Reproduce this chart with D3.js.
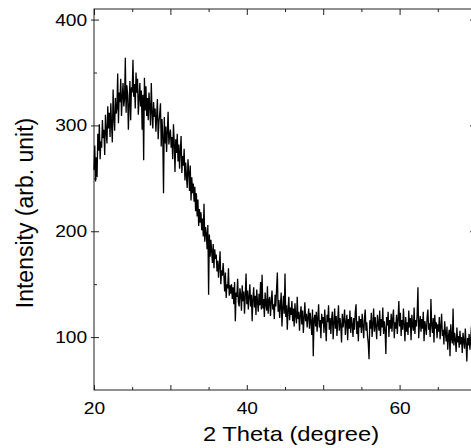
<!DOCTYPE html>
<html>
<head>
<meta charset="utf-8">
<script src="https://cdn.jsdelivr.net/npm/d3@7"></script>
<style>
  body { margin: 0; background: #fff; }
  text { font-family: "Liberation Sans", Arial, sans-serif; fill: #000; }
</style>
</head>
<body>
<div id="chart"></div>
<script>
// XRD scan, 0.1 degree steps starting at 20 degrees
const angleStart = 20;
const angleStep = 0.1;
const intensity = [
  258, 281, 247, 270, 251, 292, 276, 301, 268, 285,
  279, 305, 288, 296, 272, 310, 294, 283, 318, 297,
  312, 289, 321, 300, 284, 334, 307, 295, 326, 311,
  316, 349, 302, 331, 322, 344, 309, 327, 340, 318,
  325, 364, 312, 338, 329, 296, 320, 342, 305, 336,
  331, 362, 327, 339, 316, 350, 331, 344, 310, 325,
  340, 318, 333, 296, 329, 267, 345, 314, 337, 309,
  326, 305, 331, 318, 300, 340, 312, 297, 322, 308,
  316, 294, 309, 325, 287, 303, 311, 321, 280, 306,
  290, 236, 308, 283, 299, 275, 294, 313, 282, 291,
  296, 279, 289, 268, 301, 284, 256, 287, 274, 292,
  266, 282, 259, 276, 290, 255, 271, 262, 278, 248,
  265, 252, 241, 268, 256, 238, 262, 229, 251, 236,
  245, 228, 242, 219, 236, 214, 230, 205, 221, 208,
  218, 201, 212, 195, 226, 190, 204, 198, 183, 206,
  140, 197, 176, 192, 181, 170, 188, 165, 183, 174,
  178, 162, 172, 156, 168, 181, 150, 163, 158, 170,
  158, 143, 161, 137, 150, 146, 165, 139, 149, 141,
  150, 136, 147, 131, 152, 115, 142, 138, 155, 133,
  129, 146, 140, 125, 149, 134, 143, 122, 139, 160,
  131, 144, 126, 138, 150, 129, 140, 115, 136, 147,
  128, 139, 121, 145, 133, 124, 141, 130, 152, 126,
  159, 127, 136, 119, 142, 131, 125, 148, 122, 135,
  138, 120, 133, 144, 126, 131, 117, 140, 129, 146,
  161, 124, 135, 118, 130, 142, 110, 127, 139, 122,
  160, 119, 130, 107, 126, 138, 116, 128, 121, 134,
  115, 127, 110, 132, 120, 113, 138, 117, 124, 106,
  121, 129, 112, 125, 104, 118, 133, 115, 122, 109,
  119, 127, 108, 123, 114, 102, 126, 82, 117, 121,
  110, 124, 105, 118, 131, 109, 116, 99, 122, 113,
  119, 104, 126, 111, 96, 121, 114, 130, 107, 118,
  103, 117, 124, 98, 113, 127, 108, 120, 101, 115,
  130, 106, 118, 111, 95, 122, 109, 116, 126, 102,
  113, 121, 97, 117, 108, 125, 104, 119, 112, 100,
  118, 107, 124, 131, 103, 115, 96, 120, 109, 117,
  104, 122, 111, 99, 118, 126, 106, 114, 101, 94,
  79, 116, 108, 123, 100, 112, 127, 105, 119, 110,
  98, 121, 113, 106, 125, 101, 117, 109, 128, 103,
  115, 107, 84, 119, 111, 124, 100, 116, 108, 122,
  105, 118, 126, 99, 114, 108, 121, 103, 117, 134,
  110, 123, 101, 116, 107, 127, 112, 96, 119, 105,
  114, 102, 125, 109, 118, 97, 121, 111, 106, 128,
  103, 116, 110, 122, 147, 99, 113, 120, 105, 117,
  108, 124, 96, 115, 110, 102, 119, 126, 107, 113,
  100, 136, 111, 104, 118, 95, 121, 108, 114, 99,
  112, 105, 119, 98, 110, 122, 101, 107, 93, 115,
  104, 96, 110, 88, 101, 107, 82, 112, 99, 94,
  127, 92, 104, 98, 86, 109, 95, 101, 90, 106,
  93, 100, 85, 104, 96, 89, 108, 94, 77, 99,
  92, 103, 88, 98, 110, 86, 101, 95, 90, 107,
  99
];

const xDomain = [20, 70];
const yDomain = [50, 410];
const xMajor = [20, 30, 40, 50, 60, 70];
const xMinor = [25, 35, 45, 55, 65];
const xLabels = [20, 40, 60];
const yMajor = [100, 200, 300, 400];
const yMinor = [150, 250, 350];

let margin = {top: 9, left: 94},
    width = 382,
    height = 381;

let svg = d3.select("#chart")
  .append("svg")
    .attr("width", 471)
    .attr("height", 448)
  .append("g")
    .attr("transform", "translate(" + margin.left + "," + margin.top + ")");

var x = d3.scaleLinear().domain(xDomain).range([0, width]);
var y = d3.scaleLinear().domain(yDomain).range([height, 0]);

const textScale = "scale(1.13,1)";

// bottom axis
svg.append("g")
  .attr("transform", "translate(0," + height + ")")
  .call(d3.axisBottom(x).tickValues(xMajor).tickSizeInner(-5).tickSizeOuter(0).tickPadding(12)
    .tickFormat(d => xLabels.includes(d) ? d : ""));
svg.append("g")
  .attr("transform", "translate(0," + height + ")")
  .call(d3.axisBottom(x).tickValues(xMinor).tickSizeInner(-3).tickSizeOuter(0).tickFormat(""));

// top axis
svg.append("g")
  .call(d3.axisTop(x).tickValues(xMajor).tickSizeInner(-6).tickSizeOuter(0).tickFormat(""));
svg.append("g")
  .call(d3.axisTop(x).tickValues(xMinor).tickSizeInner(-3).tickSizeOuter(0).tickFormat(""));

// left axis
var left = svg.append("g")
  .call(d3.axisLeft(y).tickValues(yMajor).tickSizeInner(3).tickSizeOuter(0).tickPadding(3));
left.selectAll(".tick line").attr("x1", 5);
svg.append("g")
  .call(d3.axisLeft(y).tickValues(yMinor).tickSizeInner(-3).tickSizeOuter(0).tickFormat(""));

// right axis
svg.append("g")
  .attr("transform", "translate(" + width + ",0)")
  .call(d3.axisRight(y).tickValues(yMajor).tickSizeInner(-6).tickSizeOuter(0).tickFormat(""));
svg.append("g")
  .attr("transform", "translate(" + width + ",0)")
  .call(d3.axisRight(y).tickValues(yMinor).tickSizeInner(-3).tickSizeOuter(0).tickFormat(""));

svg.selectAll(".domain").remove();
svg.selectAll(".tick line").attr("stroke", "#222");
svg.selectAll(".tick text")
  .style("font-size", "17px")
  .style("font-family", "'Liberation Sans', Arial, sans-serif")
  .attr("fill", "#000")
  .attr("transform", textScale);

// frame
svg.append("rect")
  .attr("x", 0).attr("y", 0)
  .attr("width", width).attr("height", height)
  .attr("fill", "none")
  .attr("stroke", "#222")
  .attr("stroke-width", 1);

// the scan
var line = d3.line()
  .x((d, i) => x(angleStart + i * angleStep))
  .y(d => y(d));
svg.append("path")
  .datum(intensity)
  .attr("d", line)
  .attr("fill", "none")
  .attr("stroke", "#000")
  .attr("stroke-width", 1.3)
  .attr("stroke-linejoin", "miter");

// axis titles
svg.append("text")
  .attr("transform", "translate(" + (291 - margin.left) + "," + (441 - margin.top) + ") " + textScale)
  .attr("text-anchor", "middle")
  .style("font-size", "21px")
  .text("2 Theta (degree)");

svg.append("text")
  .attr("transform", "translate(" + (33 - margin.left) + "," + (213 - margin.top) + ") rotate(-90)")
  .attr("text-anchor", "middle")
  .style("font-size", "23px")
  .text("Intensity (arb. unit)");
</script>
</body>
</html>
